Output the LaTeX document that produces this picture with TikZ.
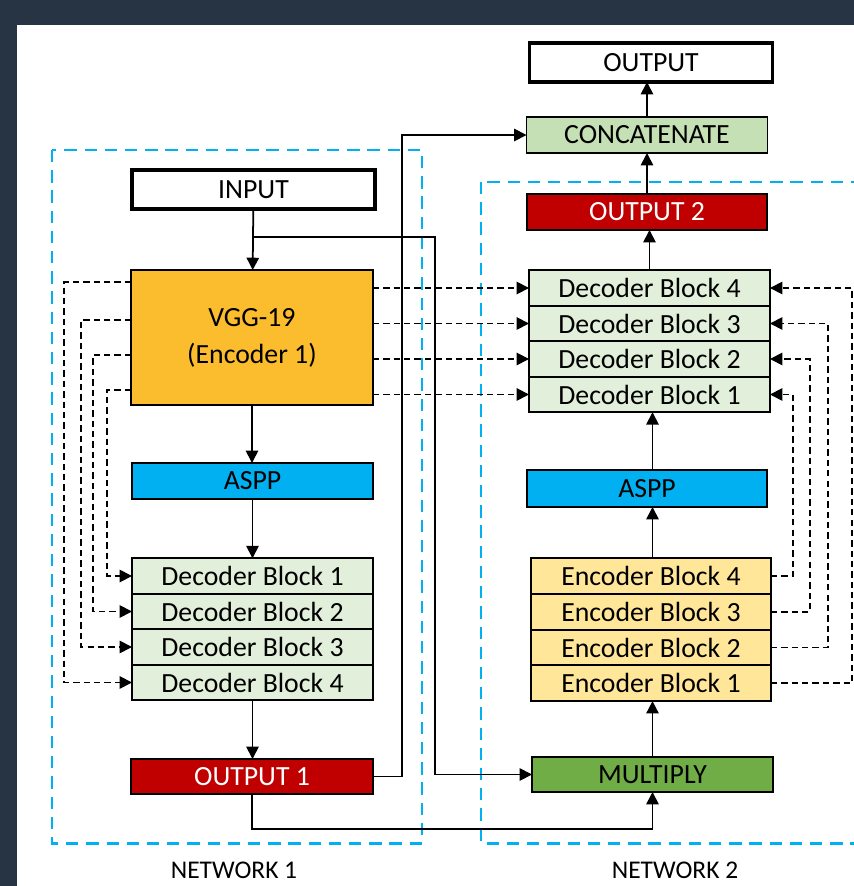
\documentclass[tikz,border=0pt]{standalone}
\usepackage{fontspec}
\setsansfont{Carlito}
\definecolor{slatebg}{RGB}{38,52,68}
\definecolor{netcyan}{RGB}{0,176,240}
\definecolor{vggorange}{RGB}{251,188,45}
\definecolor{decgreen}{RGB}{226,239,218}
\definecolor{encyellow}{RGB}{255,230,153}
\definecolor{catgreen}{RGB}{197,224,180}
\definecolor{mulgreen}{RGB}{112,173,71}
\definecolor{outred}{RGB}{192,0,0}
\tikzset{every picture/.style={/utils/exec={\sffamily}}}
\usetikzlibrary{positioning}
\usetikzlibrary{arrows.meta}

\tikzset{
  block/.style={draw, line width=1.1pt, inner sep=0pt, outer sep=0pt, font=\fontsize{15.8}{18}\selectfont},
  stackblock/.style={block, minimum width=4.82cm, minimum height=0.71cm},
  ioblock/.style={block, fill=white, line width=2pt, minimum width=4.86cm, minimum height=0.78cm},
  wire/.style={line width=1pt},
  arr/.style={wire, -{Triangle[length=7pt,width=7pt]}},
  skip/.style={arr, dash pattern=on 3.6pt off 2.3pt},
  netbox/.style={netcyan, line width=1.7pt, dash pattern=on 7pt off 4.5pt},
}

\begin{document}
\begin{tikzpicture}[x=0.02cm, y=-0.02cm]
  \useasboundingbox (0,0) rectangle (854,886);
  \fill [slatebg] (0,0) rectangle (854,886);
  \fill [white] (17,25) rectangle (854,886);

  % network frames
  \draw [netbox] (52,150) rectangle (422,843);
  \draw [netbox] (481,182) rectangle (880,843);

  % network 1
  \node [ioblock] (input) at (253.5,189.5) {INPUT};
  \node [block, fill=vggorange, minimum width=4.84cm, minimum height=2.7cm, align=center,
         font=\fontsize{15.8}{21}\selectfont] (vgg) at (252,337.5) {VGG-19\\(Encoder 1)};
  \node [block, fill=netcyan, minimum width=4.82cm, minimum height=0.72cm] (laspp) at (252.5,481) {ASPP};
  \node [stackblock, fill=decgreen] (ldec1) at (252.5,576) {Decoder Block 1};
  \node [stackblock, fill=decgreen, below=0pt of ldec1] (ldec2) {Decoder Block 2};
  \node [stackblock, fill=decgreen, below=0pt of ldec2] (ldec3) {Decoder Block 3};
  \node [stackblock, fill=decgreen, below=0pt of ldec3] (ldec4) {Decoder Block 4};
  \node [block, fill=outred, text=white, minimum width=4.84cm, minimum height=0.7cm] (out1) at (252,776.5) {OUTPUT 1};

  % network 2
  \node [ioblock] (output) at (651,62.5) {OUTPUT};
  \node [block, fill=catgreen, minimum width=4.82cm, minimum height=0.72cm] (concat) at (647,135) {CONCATENATE};
  \node [block, fill=outred, text=white, minimum width=4.8cm, minimum height=0.72cm] (out2) at (647,212) {OUTPUT 2};
  \node [stackblock, fill=decgreen] (rdec4) at (649.5,288) {Decoder Block 4};
  \node [stackblock, fill=decgreen, below=0pt of rdec4] (rdec3) {Decoder Block 3};
  \node [stackblock, fill=decgreen, below=0pt of rdec3] (rdec2) {Decoder Block 2};
  \node [stackblock, fill=decgreen, below=0pt of rdec2] (rdec1) {Decoder Block 1};
  \node [block, fill=netcyan, minimum width=4.8cm, minimum height=0.74cm] (raspp) at (647,488.5) {ASPP};
  \node [stackblock, fill=encyellow, minimum width=4.8cm, minimum height=0.715cm] (enc4) at (651,576) {Encoder Block 4};
  \node [stackblock, fill=encyellow, minimum width=4.8cm, minimum height=0.715cm, below=0pt of enc4] (enc3) {Encoder Block 3};
  \node [stackblock, fill=encyellow, minimum width=4.8cm, minimum height=0.715cm, below=0pt of enc3] (enc2) {Encoder Block 2};
  \node [stackblock, fill=encyellow, minimum width=4.8cm, minimum height=0.715cm, below=0pt of enc2] (enc1) {Encoder Block 1};
  \node [block, fill=mulgreen, minimum width=4.82cm, minimum height=0.7cm] (mult) at (652.5,774.5) {MULTIPLY};

  \node [anchor=base, inner sep=0pt, font=\fontsize{14.5}{17}\selectfont] (net1) at (234,878) {NETWORK 1};
  \node [anchor=base, inner sep=0pt, font=\fontsize{14.5}{17}\selectfont] (net2) at (675,878) {NETWORK 2};

  % main flow
  \draw [arr] (input) -- (vgg);
  \draw [arr] (vgg) -- (vgg |- laspp.north);
  \draw [arr] (laspp) -- (laspp |- ldec1.north);
  \draw [arr] (ldec4) -- (ldec4 |- out1.north);
  \draw [arr] (mult.north) -- (mult.north |- enc1.south);
  \draw [arr] (enc4.north -| mult.north) -- (mult.north |- raspp.south);
  \draw [arr] (raspp.north -| mult.north) -- (mult.north |- rdec1.south);
  \draw [arr] (rdec4.north) -- (rdec4.north |- out2.south);
  \draw [arr] (out2) -- (out2 |- concat.south);
  \draw [arr] (concat.north) -- (concat.north |- output.south);

  % cross links
  \coordinate (inturn) at (435,237);
  \coordinate (outturn) at (402,0);
  \coordinate (lowturn) at (0,829);
  \draw [arr] (input.south |- inturn) -- (inturn) |- (mult);
  \draw [arr] (out1) -| (outturn |- concat) -- (concat);
  \draw [arr] (out1) |- (lowturn -| mult.south) -- (mult);

  % skip connections
  \foreach \y/\x/\d in {282/64/4, 320/81/3, 355/93/2, 390/107/1}
    \draw [skip] (vgg.west |- 0,\y) -| (\x,0 |- ldec\d) -- (ldec\d);
  \foreach \d in {1,...,4}
    \draw [skip] (vgg.east |- rdec\d) -- (rdec\d);
  \foreach \e/\d/\x in {4/1/793, 3/2/810, 2/3/828, 1/4/852}
    \draw [skip] (enc\e) -| (\x,0 |- rdec\d) -- (rdec\d);
\end{tikzpicture}
\end{document}
